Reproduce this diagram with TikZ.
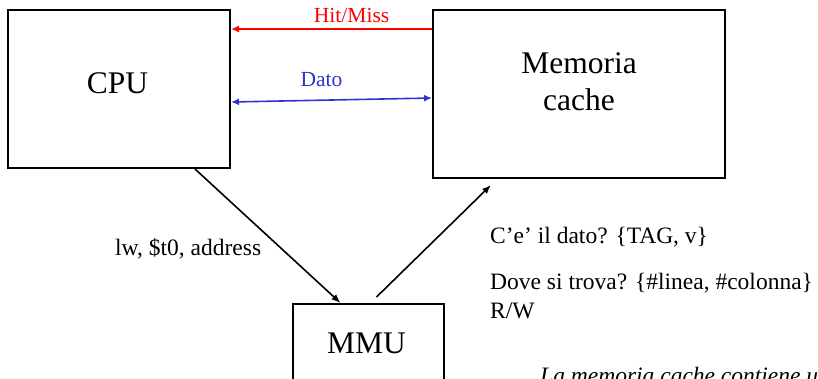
\documentclass[tikz,border=0pt]{standalone}
\usepackage{fontspec}
\setmainfont{Liberation Serif}
\usetikzlibrary{arrows.meta}
\definecolor{datoblu}{RGB}{51,51,204}

\begin{document}
\begin{tikzpicture}[x=1pt,y=-1pt,
    blocco/.style={draw,line width=2pt},
    titolo/.style={font=\fontsize{31.5}{37}\selectfont,inner sep=0pt},
    testo/.style={font=\fontsize{23.5}{29}\selectfont,inner sep=0pt},
    etichetta/.style={font=\fontsize{21.5}{25}\selectfont,inner sep=0pt},
    punta/.style={-{Latex[length=8pt,width=7pt]}},
    freccia/.style={line width=1.6pt,-{Latex[length=9pt,width=7pt]}}]
    \useasboundingbox (0,0) rectangle (818,378);
    \clip (0,0) rectangle (818,378);

    % Blocchi
    \node[blocco,minimum width=222pt,minimum height=158pt] (cpu) at (119,89) {};
    \node[blocco,minimum width=292pt,minimum height=168pt] (cache) at (579,94) {};
    \node[blocco,minimum width=151pt,minimum height=116pt] (mmu) at (368.5,362) {};

    \node[titolo,anchor=base] (cpu-testo) at (117.5,93) {CPU};
    \node[titolo,anchor=base,align=center] (cache-testo) at (579,110) {Memoria\\cache};
    \node[titolo,anchor=base] (mmu-testo) at (366.5,353) {MMU};

    % Collegamenti
    \draw[red,line width=1.8pt,punta] ([yshift=65pt]cache.west) -- ([yshift=60pt]cpu.east)
        node[pos=0.4,above=5pt,etichetta] {Hit/Miss};
    \draw[datoblu,line width=1.6pt,{Latex[length=8pt,width=7pt]}-{Latex[length=8pt,width=7pt]}] ([yshift=-13pt]cpu.east) -- ([yshift=-4pt]cache.west)
        node[pos=0.45,above=13pt,etichetta] {Dato};
    \draw[freccia] ([xshift=76pt]cpu.south) -- ([xshift=-28pt]mmu.north);
    \draw[freccia] ([xshift=8pt,yshift=6pt]mmu.north) -- ([xshift=-88pt,yshift=-6pt]cache.south);

    % Testi
    \node[testo,anchor=base west] (istruzione) at (115,255) {lw, \$t0, address};
    \node[testo,anchor=base west] (dato) at (490,243) {C'e' il dato? \{TAG, v\}};
    \node[testo,anchor=base west] (posizione) at (490,289) {Dove si trova? \{\#linea, \#colonna\}};
    \node[testo,anchor=base west] (rw) at (490,318) {R/W};
    \node[testo,anchor=base west,font=\fontsize{23.5}{29}\selectfont\itshape] (nota) at (540,383) {La memoria cache contiene una copia};
\end{tikzpicture}
\end{document}
